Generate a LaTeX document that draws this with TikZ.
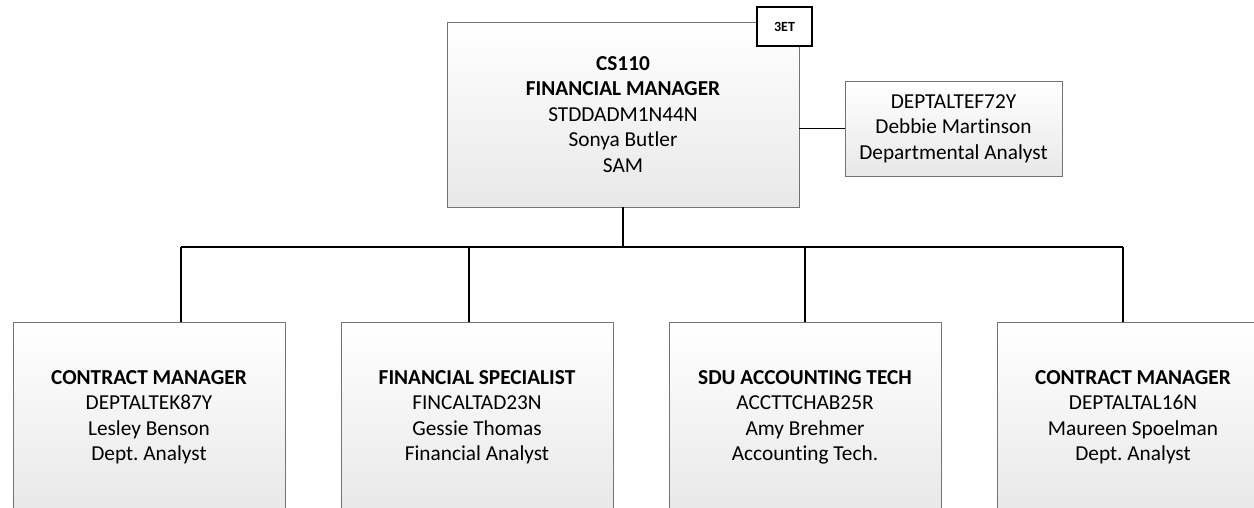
\documentclass[tikz,border=0pt]{standalone}
\usepackage{fontspec}
\setmainfont{Carlito}[Ligatures=NoCommon]
\frenchspacing
\begin{document}
\begin{tikzpicture}[x=1pt,y=-1pt,
  boxstyle/.style={draw=black!55, line width=0.9pt, top color=white, bottom color=black!9,
    align=center, inner sep=0pt, font=\fontsize{21.3}{25.5}\selectfont},
  tagstyle/.style={draw=black, line width=1.3pt, fill=white, inner sep=0pt,
    minimum width=55pt, minimum height=39pt, font=\fontsize{14}{15}\selectfont\bfseries},
  conn/.style={draw=black, line width=1.6pt}]
\useasboundingbox (0,0) rectangle (1254,508);
\clip (0,0) rectangle (1254,508);

% top box
\node[boxstyle, minimum width=352pt, minimum height=185pt] (top) at (623,114.5)
  {\textbf{CS110}\\\textbf{FINANCIAL MANAGER}\\STDDADM1N44N\\Sonya Butler\\SAM};
\node[tagstyle] (tag) at (784.5,26.5) {3ET};

% assistant box
\node[boxstyle, minimum width=217pt, minimum height=95pt] (asst) at (953.5,128.5)
  {DEPTALTEF72Y\\Debbie Martinson\\Departmental Analyst};

% bottom boxes
\node[boxstyle, minimum width=272pt, minimum height=190pt, anchor=north] (b1) at (149,322)
  {\textbf{CONTRACT MANAGER}\\DEPTALTEK87Y\\Lesley Benson\\Dept. Analyst};
\node[boxstyle, minimum width=272pt, minimum height=190pt, anchor=north] (b2) at (477,322)
  {\textbf{FINANCIAL SPECIALIST}\\FINCALTAD23N\\Gessie Thomas\\Financial Analyst};
\node[boxstyle, minimum width=272pt, minimum height=190pt, anchor=north] (b3) at (805,322)
  {\textbf{SDU ACCOUNTING TECH}\\ACCTTCHAB25R\\Amy Brehmer\\Accounting Tech.};
\node[boxstyle, minimum width=272pt, minimum height=190pt, anchor=north] (b4) at (1133,322)
  {\textbf{CONTRACT MANAGER}\\DEPTALTAL16N\\Maureen Spoelman\\Dept. Analyst};

% connectors
\coordinate (bus) at (623,247);
\coordinate (j1) at (181,247);
\coordinate (j2) at (469,247);
\coordinate (j3) at (805,247);
\coordinate (j4) at (1123,247);
\draw[conn] (asst.west -| top.east) -- (asst.west);
\draw[conn] (top.south) -- (bus);
\draw[conn] (j1) -- (j4);
\draw[conn] (j1) -- (j1 |- b1.north);
\draw[conn] (j2) -- (j2 |- b2.north);
\draw[conn] (j3) -- (j3 |- b3.north);
\draw[conn] (j4) -- (j4 |- b4.north);
\end{tikzpicture}
\end{document}
